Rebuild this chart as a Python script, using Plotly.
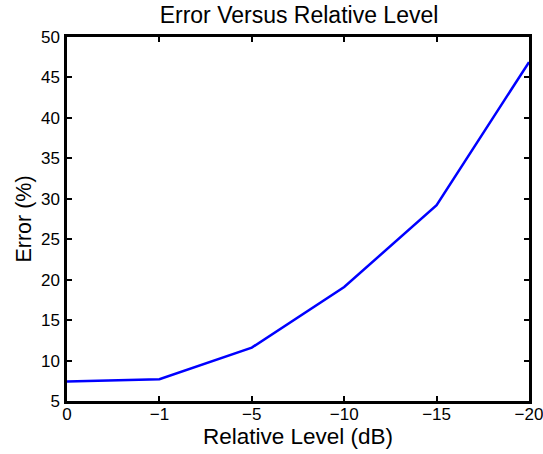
import plotly.graph_objects as go

levels = ["0", "\u22121", "\u22125", "\u221210", "\u221215", "\u221220"]
error_pct = [7.4, 7.7, 11.6, 19.1, 29.2, 46.9]
y_ticks = [5, 10, 15, 20, 25, 30, 35, 40, 45, 50]

x_idx = list(range(len(levels)))
FONT = "Liberation Sans, Arial"

fig = go.Figure()
fig.add_trace(go.Scatter(x=x_idx, y=error_pct, mode="lines",
                         line=dict(color="#0000ff", width=2.5), showlegend=False))

axis_common = dict(showline=True, linecolor="black", linewidth=2.5, mirror="ticks",
                   ticks="inside", ticklen=5, tickwidth=2, tickcolor="black",
                   showgrid=False, zeroline=False, automargin=False,
                   ticklabeloverflow="allow",
                   tickfont=dict(family=FONT, size=17, color="black"))

fig.update_xaxes(range=[0, len(levels) - 1], tickvals=x_idx, ticktext=levels,
                 ticklabelstandoff=-4,
                 title=dict(text="Relative Level (dB)", standoff=0,
                            font=dict(family=FONT, size=22.5, color="black")),
                 **axis_common)
fig.update_yaxes(range=[5, 50], tickvals=y_ticks, ticklabelstandoff=1,
                 title=dict(text="Error (%)", standoff=4,
                            font=dict(family=FONT, size=21.5, color="black")),
                 **axis_common)

fig.update_layout(
    width=543, height=454,
    margin=dict(l=67, r=14, t=37, b=53),
    paper_bgcolor="white", plot_bgcolor="white",
    title=dict(text="Error Versus Relative Level", x=299 / 543, xanchor="center",
               yref="container", y=1 - 15 / 454, yanchor="middle",
               font=dict(family=FONT, size=23, color="black")),
)

fig.write_html("out.html", config={"displayModeBar": False},
               post_script="document.body.style.margin='0';")
